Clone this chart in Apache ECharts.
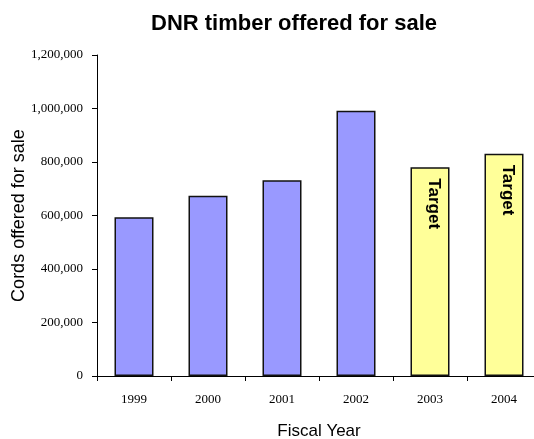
<!DOCTYPE html>
<html><head><meta charset="utf-8">
<script src="https://cdn.jsdelivr.net/npm/echarts@6/dist/echarts.min.js"></script>
<style>html,body{margin:0;padding:0;background:#fff}#c{width:534px;height:439px}</style>
</head><body><div id="c"></div>
<script>
var years = ['1999','2000','2001','2002','2003','2004'];
var cords = [593000, 674000, 732000, 992000, 780000, 831000];
var isTarget = [false, false, false, false, true, true];
var yTicks = [0, 200000, 400000, 600000, 800000, 1000000, 1200000];

var SANS = 'Liberation Sans';
var SERIF = 'Liberation Serif';

var targetLabel = {
  show: true, position: 'insideTop', distance: 11, rotate: -90, align: 'left', verticalAlign: 'middle',
  offset: [0, -4],
  formatter: 'Target',
  fontFamily: SANS, fontWeight: 'bold', fontSize: 17, color: '#000'
};

var data = cords.map(function(v, i){
  return {
    value: v,
    itemStyle: { color: isTarget[i] ? '#FFFF99' : '#9999FF' },
    label: isTarget[i] ? targetLabel : { show: false }
  };
});

var chart = echarts.init(document.getElementById('c'));
chart.setOption({
  animation: false,
  textStyle: { fontFamily: SANS },
  title: {
    text: 'DNR timber offered for sale',
    left: 146, top: 8,
    textStyle: { fontFamily: SANS, fontWeight: 'bold', fontSize: 22, color: '#000' }
  },
  grid: { left: 97, width: 444, top: 55, height: 321, outerBoundsMode: 'none', containLabel: false },
  xAxis: {
    type: 'category', data: years,
    name: 'Fiscal Year', nameLocation: 'middle', nameGap: 47, nameMoveOverlap: false,
    nameTextStyle: { fontFamily: SANS, fontSize: 17, color: '#000' },
    axisLine: { lineStyle: { color: '#000', width: 1 } },
    axisTick: { show: true, length: 5, lineStyle: { color: '#000' } },
    axisLabel: { margin: 17, fontFamily: SERIF, fontSize: 13, color: '#000' }
  },
  yAxis: {
    type: 'value', min: yTicks[0], max: yTicks[yTicks.length-1], interval: 200000,
    name: 'Cords offered for sale', nameLocation: 'middle', nameGap: 69, nameMoveOverlap: false,
    nameTextStyle: { fontFamily: SANS, fontSize: 18, color: '#000' },
    axisLine: { show: true, lineStyle: { color: '#000', width: 1 } },
    axisTick: { show: true, length: 5, lineStyle: { color: '#000' } },
    splitLine: { show: false },
    axisLabel: {
      margin: 14, fontFamily: SERIF, fontSize: 13, color: '#000',
      formatter: function(v){ return v.toLocaleString('en-US'); }
    }
  },
  series: [{
    type: 'bar', data: data, barWidth: 39,
    itemStyle: { borderColor: '#111', borderWidth: 1.5 }
  }]
});
</script></body></html>
